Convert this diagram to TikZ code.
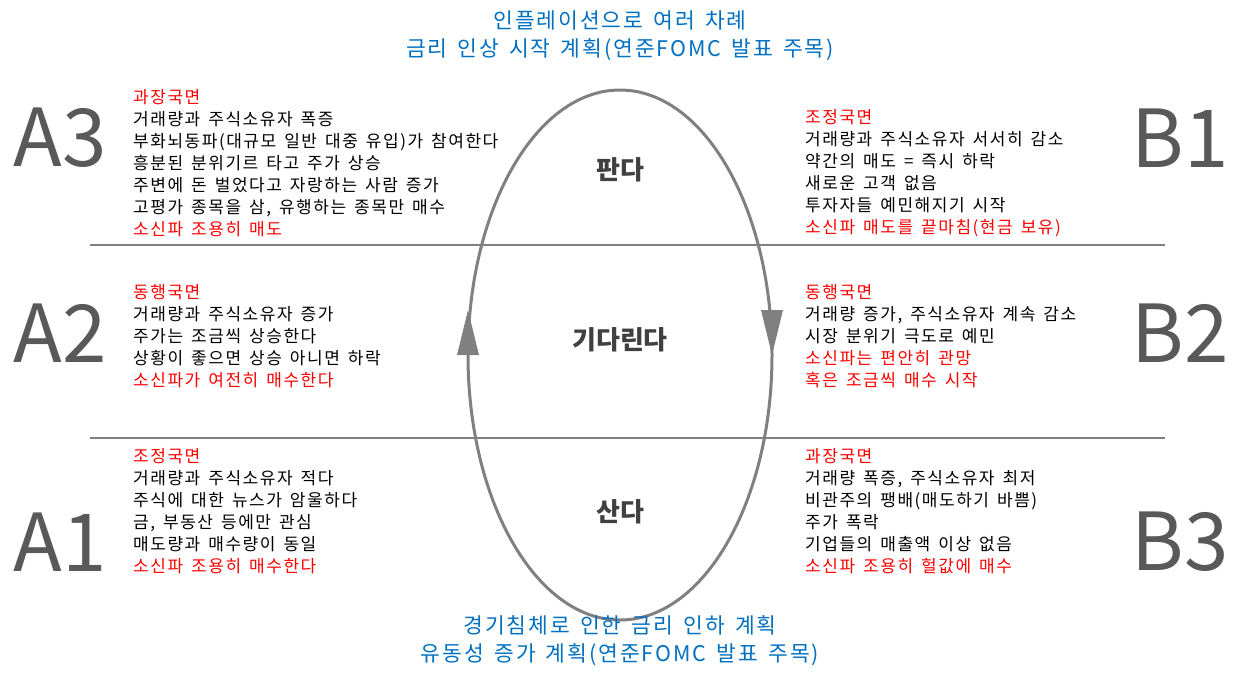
\documentclass[tikz,border=0pt]{standalone}
\usepackage{fontspec}
\newfontfamily\kr{Noto Sans CJK KR}
\newfontfamily\krw[LetterSpace=9,WordSpace=1.5]{Noto Sans CJK KR}
\begin{document}
\begin{tikzpicture}[x=1pt,y=-1pt,
  blk/.style={anchor=north west,align=left,inner sep=0pt,font=\krw\fontsize{17}{22}\selectfont},
  big/.style={font=\kr\fontsize{80}{80}\selectfont,text=bigc,inner sep=0pt},
  mid/.style={font=\kr\bfseries\fontsize{26}{28}\selectfont,text=midc,inner sep=0pt},
  ttl/.style={font=\krw\fontsize{21.5}{28}\selectfont,text=blu,align=center,inner sep=0pt}]
\definecolor{bigc}{RGB}{89,89,89}
\definecolor{midc}{RGB}{64,64,64}
\definecolor{ln}{RGB}{128,128,128}
\definecolor{blu}{RGB}{0,112,192}
\definecolor{rd}{RGB}{255,0,0}
\useasboundingbox (0,0) rectangle (1235,683);
\draw[ln,line width=3pt] (620,355) ellipse [x radius=152,y radius=265];
\draw[ln,line width=2pt] (90,245) -- (1165,245);
\draw[ln,line width=2pt] (90,438) -- (1165,438);
\fill[ln] (468,310) -- (457,355) -- (479,355) -- cycle;
\fill[ln] (772,355) -- (761,310) -- (783,310) -- cycle;
\node[ttl] (t1) at (620,36) {인플레이션으로 여러 차례\\금리 인상 시작 계획(연준FOMC 발표 주목)};
\node[ttl] (t2) at (620,641) {경기침체로 인한 금리 인하 계획\\유동성 증가 계획(연준FOMC 발표 주목)};
\node[mid] (m1) at (620,170) {판다};
\node[mid] (m2) at (620,340) {기다린다};
\node[mid] (m3) at (620,512) {산다};
\node[big] (a3) at (60,138) {A3};
\node[big] (a2) at (60,333) {A2};
\node[big] (a1) at (60,542) {A1};
\node[big] (b1) at (1180,138) {B1};
\node[big] (b2) at (1180,333) {B2};
\node[big] (b3) at (1180,542) {B3};
\node[blk] (ta3) at (133,89) {\textcolor{rd}{과장국면}\\거래량과 주식소유자 폭증\\부화뇌동파(대규모 일반 대중 유입)가 참여한다\\흥분된 분위기르 타고 주가 상승\\주변에 돈 벌었다고 자랑하는 사람 증가\\고평가 종목을 삼, 유행하는 종목만 매수\\\textcolor{rd}{소신파 조용히 매도}};
\node[blk] (ta2) at (133,284) {\textcolor{rd}{동행국면}\\거래량과 주식소유자 증가\\주가는 조금씩 상승한다\\상황이 좋으면 상승 아니면 하락\\\textcolor{rd}{소신파가 여전히 매수한다}};
\node[blk] (ta1) at (133,448) {\textcolor{rd}{조정국면}\\거래량과 주식소유자 적다\\주식에 대한 뉴스가 암울하다\\금, 부동산 등에만 관심\\매도량과 매수량이 동일\\\textcolor{rd}{소신파 조용히 매수한다}};
\node[blk] (tb1) at (805,109) {\textcolor{rd}{조정국면}\\거래량과 주식소유자 서서히 감소\\약간의 매도 = 즉시 하락\\새로운 고객 없음\\투자자들 예민해지기 시작\\\textcolor{rd}{소신파 매도를 끝마침(현금 보유)}};
\node[blk] (tb2) at (805,284) {\textcolor{rd}{동행국면}\\거래량 증가, 주식소유자 계속 감소\\시장 분위기 극도로 예민\\\textcolor{rd}{소신파는 편안히 관망}\\\textcolor{rd}{혹은 조금씩 매수 시작}};
\node[blk] (tb3) at (805,448) {\textcolor{rd}{과장국면}\\거래량 폭증, 주식소유자 최저\\비관주의 팽배(매도하기 바쁨)\\주가 폭락\\기업들의 매출액 이상 없음\\\textcolor{rd}{소신파 조용히 헐값에 매수}};
\end{tikzpicture}
\end{document}
